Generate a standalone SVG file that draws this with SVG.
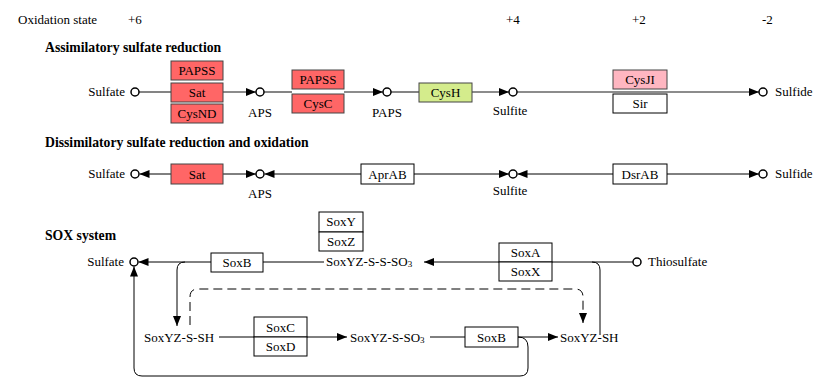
<svg xmlns="http://www.w3.org/2000/svg" width="817" height="381" viewBox="0 0 817 381" font-family="'Liberation Serif', 'DejaVu Serif', serif" font-size="13">
<style>
text{font-family:'Liberation Serif','DejaVu Serif',serif;font-size:13px;fill:#000}
.t{font-weight:bold;font-size:13.7px}
.c{text-anchor:middle}
.e{text-anchor:end}
.bx{fill:#fff;stroke:#000;stroke-width:1}
.red{fill:#ff6666;stroke:#444;stroke-width:1}
.pink{fill:#ffb6c1;stroke:#444;stroke-width:1}
.grn{fill:#d4ec8c;stroke:#444;stroke-width:1}
.cp{fill:#fff;stroke:#000;stroke-width:1.5}
.g{stroke:#666;stroke-width:1.6;fill:none}
.k{stroke:#000;stroke-width:1;fill:none}
.d{stroke:#000;stroke-width:1;fill:none;stroke-dasharray:9 5}
.sub{font-size:9px}
</style>
<defs>
<marker id="a" viewBox="0 0 10 8" refX="10" refY="4" markerWidth="10" markerHeight="8" markerUnits="userSpaceOnUse" orient="auto">
<path d="M0,0 L10,4 L0,8 z" fill="#000"/>
</marker>
</defs>

<g id="labels">
<text x="18" y="24">Oxidation state</text>
<text x="128" y="24">+6</text>
<text x="506" y="24">+4</text>
<text x="632" y="24">+2</text>
<text x="762" y="24">-2</text>
<text class="t" x="45" y="52">Assimilatory sulfate reduction</text>
<text class="t" x="45" y="147">Dissimilatory sulfate reduction and oxidation</text>
<text class="t" x="45" y="240">SOX system</text>
</g>

<g id="connectors">
<line class="g" x1="139" y1="92" x2="171" y2="92"/>
<line class="g" x1="223" y1="92" x2="256" y2="92" marker-end="url(#a)"/>
<line class="g" x1="264" y1="92" x2="292" y2="92"/>
<line class="g" x1="344" y1="92" x2="383" y2="92" marker-end="url(#a)"/>
<line class="g" x1="391" y1="92" x2="419" y2="92"/>
<line class="g" x1="472" y1="92" x2="509" y2="92" marker-end="url(#a)"/>
<line class="g" x1="517" y1="92" x2="759" y2="92" marker-end="url(#a)"/>
<line class="k" x1="171" y1="174" x2="139.5" y2="174" marker-end="url(#a)"/>
<line class="k" x1="223" y1="174" x2="256" y2="174" marker-end="url(#a)"/>
<line class="k" x1="361" y1="174" x2="264.5" y2="174" marker-end="url(#a)"/>
<line class="k" x1="414" y1="174" x2="509" y2="174" marker-end="url(#a)"/>
<line class="k" x1="613" y1="174" x2="517.5" y2="174" marker-end="url(#a)"/>
<line class="k" x1="667" y1="174" x2="759" y2="174" marker-end="url(#a)"/>
<line class="k" x1="211" y1="262" x2="138.5" y2="262" marker-end="url(#a)"/>
<line class="k" x1="263" y1="262" x2="324" y2="262"/>
<line class="k" x1="633" y1="262" x2="424" y2="262" marker-end="url(#a)"/>
<path class="k" d="M592,262 Q600,262 600,270 L600,335"/>
<path class="k" d="M185,262 Q177,262 177,270 L177,326" marker-end="url(#a)"/>
<path class="d" d="M190,325 L190,297 Q190,289 198,289 L575,289 Q583,289 583,297 L583,323" marker-end="url(#a)"/>
<line class="k" x1="219" y1="337" x2="347" y2="337" marker-end="url(#a)"/>
<line class="k" x1="430" y1="337" x2="465" y2="337"/>
<line class="k" x1="518" y1="337" x2="558" y2="337" marker-end="url(#a)"/>
<path class="k" d="M518,337 Q528,337 528,347 L528,368 Q528,376 520,376 L142,376 Q134,376 134,368 L134,266.5" marker-end="url(#a)"/>
</g>

<g id="sulfate1"><circle class="cp" cx="135" cy="92" r="4"/><text class="e" x="125" y="96">Sulfate</text></g>
<g id="aps1"><circle class="cp" cx="260" cy="92" r="4"/><text class="c" x="260" y="117">APS</text></g>
<g id="paps1"><circle class="cp" cx="387" cy="92" r="4"/><text class="c" x="387" y="117">PAPS</text></g>
<g id="sulfite1"><circle class="cp" cx="513" cy="92" r="4"/><text class="c" x="510" y="115">Sulfite</text></g>
<g id="sulfide1"><circle class="cp" cx="763" cy="92" r="4"/><text x="775" y="96">Sulfide</text></g>

<g id="enz-sat1">
<rect class="red" x="171" y="61" width="52" height="19"/><text class="c" x="197" y="75">PAPSS</text>
<rect class="red" x="171" y="83" width="52" height="19"/><text class="c" x="197" y="97">Sat</text>
<rect class="red" x="171" y="104" width="52" height="19"/><text class="c" x="197" y="118">CysND</text>
</g>
<g id="enz-cysc">
<rect class="red" x="292" y="70" width="52" height="19"/><text class="c" x="318" y="84">PAPSS</text>
<rect class="red" x="292" y="94" width="52" height="19"/><text class="c" x="318" y="108">CysC</text>
</g>
<g id="enz-cysh"><rect class="grn" x="419" y="83" width="53" height="19"/><text class="c" x="445.5" y="97">CysH</text></g>
<g id="enz-sir">
<rect class="pink" x="613" y="70" width="54" height="19"/><text class="c" x="640" y="84">CysJI</text>
<rect class="bx" x="613" y="94" width="54" height="19"/><text class="c" x="640" y="108">Sir</text>
</g>

<g id="sulfate2"><circle class="cp" cx="135" cy="174" r="4"/><text class="e" x="125" y="178">Sulfate</text></g>
<g id="aps2"><circle class="cp" cx="260" cy="174" r="4"/><text class="c" x="260" y="198">APS</text></g>
<g id="sulfite2"><circle class="cp" cx="513" cy="174" r="4"/><text class="c" x="510" y="195">Sulfite</text></g>
<g id="sulfide2"><circle class="cp" cx="763" cy="174" r="4"/><text x="775" y="178">Sulfide</text></g>
<g id="enz-sat2"><rect class="red" x="171" y="164" width="52" height="20"/><text class="c" x="197" y="179">Sat</text></g>
<g id="enz-aprab"><rect class="bx" x="361" y="164" width="53" height="20"/><text class="c" x="387.5" y="179">AprAB</text></g>
<g id="enz-dsrab"><rect class="bx" x="613" y="164" width="54" height="20"/><text class="c" x="640" y="179">DsrAB</text></g>

<g id="sulfate3"><circle class="cp" cx="134" cy="262" r="4"/><text class="e" x="124" y="266">Sulfate</text></g>
<g id="thiosulfate"><circle class="cp" cx="637" cy="262" r="4"/><text x="648" y="266">Thiosulfate</text></g>
<g id="soxyzsss"><text x="326" y="266">SoxYZ-S-S-SO<tspan class="sub" dy="1">3</tspan></text></g>
<g id="soxyzssh"><text x="144" y="342">SoxYZ-S-SH</text></g>
<g id="soxyzsso"><text x="350" y="342">SoxYZ-S-SO<tspan class="sub" dy="1">3</tspan></text></g>
<g id="soxyzsh"><text x="560" y="342">SoxYZ-SH</text></g>
<g id="enz-soxb1"><rect class="bx" x="211" y="253" width="52" height="19"/><text class="c" x="237" y="267">SoxB</text></g>
<g id="enz-soxyz">
<rect class="bx" x="319" y="212" width="44" height="20"/><text class="c" x="341" y="226">SoxY</text>
<rect class="bx" x="319" y="232" width="44" height="19"/><text class="c" x="341" y="246">SoxZ</text>
</g>
<g id="enz-soxax">
<rect class="bx" x="499" y="243" width="53" height="19"/><text class="c" x="525.5" y="257">SoxA</text>
<rect class="bx" x="499" y="262" width="53" height="19"/><text class="c" x="525.5" y="276">SoxX</text>
</g>
<g id="enz-soxcd">
<rect class="bx" x="254" y="317" width="53" height="20"/><text class="c" x="280.5" y="332">SoxC</text>
<rect class="bx" x="254" y="337" width="53" height="19"/><text class="c" x="280.5" y="351">SoxD</text>
</g>
<g id="enz-soxb2"><rect class="bx" x="465" y="327" width="53" height="20"/><text class="c" x="491.5" y="342">SoxB</text></g>
</svg>
